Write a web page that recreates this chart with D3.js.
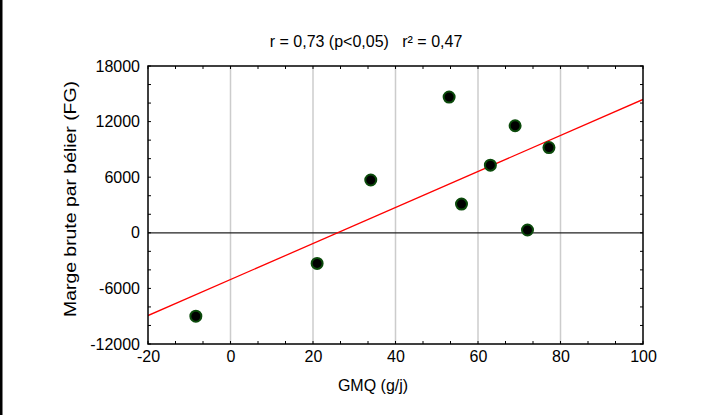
<!DOCTYPE html>
<html>
<head>
<meta charset="utf-8">
<script src="https://cdn.jsdelivr.net/npm/d3@7"></script>
<style>
  html, body { margin: 0; padding: 0; background: #fff; }
  svg { display: block; font-family: "Liberation Sans", Arial, sans-serif; }
</style>
</head>
<body>
<svg id="chart" width="712" height="415"></svg>
<script>
// ---- data ----
const gmq = [-8.4, 21, 34, 53, 69, 77.2, 63, 56, 72];
const marge = [-9000, -3300, 5700, 14650, 11550, 9200, 7300, 3100, 300];
const xTicks = [-20, 0, 20, 40, 60, 80, 100];
const yTicks = [-12000, -6000, 0, 6000, 12000, 18000];
const xGrid = [0, 20, 40, 60, 80];
const titleText = "r = 0,73 (p<0,05)\u00a0\u00a0\u00a0r\u00b2 = 0,47";
const xLabel = "GMQ (g/j)";
const yLabel = "Marge brute par bélier (FG)";

// ---- layout ----
const svg = d3.select("#chart");
const L = 148, R = 643, T = 66, B = 344;
const x = d3.scaleLinear().domain([-20, 100]).range([L, R]);
const y = d3.scaleLinear().domain([-12000, 18000]).range([B, T]);
const fmt = d => String(d);

// left page border
svg.append("line").attr("x1", 1.25).attr("x2", 1.25).attr("y1", 0).attr("y2", 415)
  .attr("stroke", "#000").attr("stroke-width", 2.5);

// grid
svg.append("g").selectAll("line").data(xGrid).join("line")
  .attr("x1", d => x(d)).attr("x2", d => x(d)).attr("y1", T).attr("y2", B)
  .attr("stroke", "#cccccc").attr("stroke-width", 1.5);

// zero line
svg.append("line").attr("x1", L).attr("x2", R).attr("y1", y(0)).attr("y2", y(0))
  .attr("stroke", "#222").attr("stroke-width", 1.3);

// minor ticks (inward) on all four sides
const xMinor = d3.range(-20, 100.001, 20 / 3);
const yMinor = d3.range(-12000, 18001, 2000);
const tl = 3;
const axAll = svg.append("g").attr("stroke", "#000").attr("stroke-width", 1);
axAll.selectAll(".xb").data(xMinor).join("line").attr("class", "xb")
  .attr("x1", d => x(d)).attr("x2", d => x(d)).attr("y1", B).attr("y2", B - tl);
axAll.selectAll(".xt").data(xMinor).join("line").attr("class", "xt")
  .attr("x1", d => x(d)).attr("x2", d => x(d)).attr("y1", T).attr("y2", T + tl);
axAll.selectAll(".yl").data(yMinor).join("line").attr("class", "yl")
  .attr("x1", L).attr("x2", L + tl).attr("y1", d => y(d)).attr("y2", d => y(d));
axAll.selectAll(".yr").data(yMinor).join("line").attr("class", "yr")
  .attr("x1", R).attr("x2", R - tl).attr("y1", d => y(d)).attr("y2", d => y(d));

// axis labels via d3 axes
const xAxis = d3.axisBottom(x).tickValues(xTicks).tickSize(0).tickPadding(7).tickFormat(fmt);
const gx = svg.append("g").attr("transform", `translate(0,${B})`).call(xAxis);
gx.select(".domain").remove();
gx.selectAll("text").attr("font-size", 16).attr("fill", "#000").attr("font-family", "Liberation Sans, Arial, sans-serif");

const yAxis = d3.axisLeft(y).tickValues(yTicks).tickSize(0).tickPadding(8).tickFormat(fmt);
const gy = svg.append("g").attr("transform", `translate(${L},0)`).call(yAxis);
gy.select(".domain").remove();
gy.selectAll("text").attr("font-size", 16).attr("fill", "#000").attr("font-family", "Liberation Sans, Arial, sans-serif");

// regression line computed from data
const mx = d3.mean(gmq), my = d3.mean(marge);
let sxy = 0, sxx = 0;
gmq.forEach((v, i) => { sxy += (v - mx) * (marge[i] - my); sxx += (v - mx) * (v - mx); });
const slope = sxy / sxx, icpt = my - slope * mx;
svg.append("defs").append("clipPath").attr("id", "clip")
  .append("rect").attr("x", L).attr("y", T).attr("width", R - L).attr("height", B - T);
svg.append("line").attr("clip-path", "url(#clip)")
  .attr("x1", x(-20)).attr("y1", y(icpt + slope * -20))
  .attr("x2", x(100)).attr("y2", y(icpt + slope * 100))
  .attr("stroke", "#ff0000").attr("stroke-width", 1.3);

// frame
svg.append("rect").attr("x", L).attr("y", T).attr("width", R - L).attr("height", B - T)
  .attr("fill", "none").attr("stroke", "#000").attr("stroke-width", 1.5);

// points
svg.append("g").selectAll("circle").data(gmq.map((v, i) => [v, marge[i]])).join("circle")
  .attr("cx", d => x(d[0])).attr("cy", d => y(d[1])).attr("r", 5.5)
  .attr("fill", "#000").attr("stroke", "#0b4a0b").attr("stroke-width", 2);

// title
svg.append("text").attr("x", 366).attr("y", 47).attr("text-anchor", "middle")
  .attr("font-size", 16).text(titleText);

// x label
svg.append("text").attr("x", 373).attr("y", 391).attr("text-anchor", "middle")
  .attr("font-size", 16).text(xLabel);

// y label
svg.append("text").attr("transform", `translate(76,199) rotate(-90)`).attr("text-anchor", "middle")
  .attr("font-size", 16).attr("textLength", 236).attr("lengthAdjust", "spacingAndGlyphs")
  .text(yLabel);
</script>
</body>
</html>
